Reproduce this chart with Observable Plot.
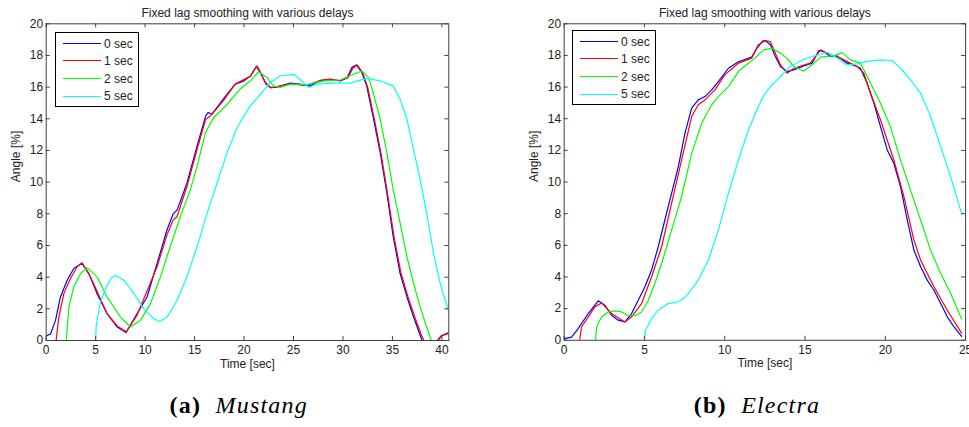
<!DOCTYPE html>
<html>
<head>
<meta charset="utf-8">
<script src="https://cdn.jsdelivr.net/npm/d3@7"></script>
<script src="https://cdn.jsdelivr.net/npm/@observablehq/plot@0.6"></script>
<style>
  html, body { margin: 0; padding: 0; background: #fff; overflow: hidden; }
  body { width: 969px; height: 427px; position: relative; }
  .panel { position: absolute; top: 0; }
  .panel svg { overflow: visible; }
  .legend { position: absolute; box-sizing: border-box; width: 84px; height: 75px; border: 1px solid #000; background: #fff;
            font-family: "Liberation Sans", Arial, sans-serif; font-size: 12px; color: #222; }
  .legend .ln { position: absolute; left: 7px; width: 38px; height: 0; }
  .legend .tx { position: absolute; left: 48px; line-height: 14px; white-space: nowrap; }
  .caption { position: absolute; width: 300px; text-align: center; font-family: "Liberation Serif", "Times New Roman", serif;
             font-size: 24px; line-height: 24px; letter-spacing: 1.2px; color: #000; white-space: pre; }
</style>
</head>
<body>
<div id="a" class="panel" style="left:0px"></div>
<div id="b" class="panel" style="left:518.3px"></div>
<div id="legA" class="legend" style="left:55px; top:32px"></div>
<div id="legB" class="legend" style="left:572px; top:30px"></div>
<div class="caption" style="left:88.7px; top:393px"><b>(a)</b>  <i>Mustang</i></div>
<div class="caption" style="left:607px; top:393px"><b>(b)</b>  <i>Electra</i></div>
<script>
// ---------- data ----------
const delays = ["0 sec", "1 sec", "2 sec", "5 sec"];
const colors = ["#0000ff", "#ff0000", "#00ff00", "#00ffff"];
const titleText = "Fixed lag smoothing with various delays";
const xLabel = "Time [sec]";
const yLabel = "Angle [%]";
const xTicksA = [0, 5, 10, 15, 20, 25, 30, 35, 40];
const xTicksB = [0, 5, 10, 15, 20, 25];
const yTicks = [0, 2, 4, 6, 8, 10, 12, 14, 16, 18, 20];

// (a) Mustang: [time, angle]
const mustang0 = [[0,0.3],[0.43,0.4],[0.94,1.27],[1.44,2.75],[2.12,3.8],[2.79,4.55],[3.6,4.88],[4.3,4.24],[5.14,2.96],[6.16,1.69],[7.18,0.85],[8.07,0.5],[9.18,1.69],[10.2,2.75],[11.21,4.87],[12.21,6.98],[12.84,8.0],[13.24,8.25],[14.23,9.95],[15.25,12.27],[16.12,14.18],[16.36,14.39],[16.76,14.3],[17.9,15.24],[19.1,16.19],[19.96,16.38],[20.63,16.68],[21.24,17.3],[21.65,16.93],[22.15,16.3],[22.65,15.98],[23.33,16.0],[24.68,16.25],[25.65,16.19],[26.69,16.08],[27.7,16.4],[28.73,16.5],[29.72,16.4],[30.42,16.6],[30.91,17.25],[31.36,17.4],[31.9,16.93],[32.4,16.08],[33.1,13.97],[33.77,11.85],[34.44,9.31],[35.08,6.56],[35.78,4.23],[36.47,2.75],[37.14,1.48],[37.81,0.32],[38.0,0],[39.55,0],[39.95,0.3],[40.7,0.5]];
const mustang1 = [[1.0,0],[1.27,1.45],[1.78,2.96],[2.45,3.92],[3.13,4.66],[3.63,4.9],[4.5,4.0],[6.16,1.69],[7.2,0.9],[8.1,0.55],[9.18,1.59],[11.21,4.66],[12.21,6.67],[12.84,7.62],[13.24,7.83],[14.23,9.74],[15.25,12.06],[16.12,13.97],[16.61,14.18],[17.9,15.13],[19.1,16.19],[20.63,16.68],[21.3,17.35],[21.7,16.9],[22.2,16.2],[22.75,15.95],[23.4,16.05],[24.8,16.2],[26.3,16.1],[27.8,16.45],[28.8,16.5],[29.8,16.4],[30.5,16.6],[31.0,17.2],[31.45,17.4],[32.0,16.9],[32.5,16.0],[33.2,13.9],[33.85,11.8],[34.5,9.3],[35.15,6.6],[35.85,4.3],[36.55,2.8],[37.25,1.5],[37.95,0.3],[38.2,0],[39.6,0],[40.0,0.3],[40.7,0.45]];
const mustang2 = [[2.03,0],[2.29,2.1],[2.79,3.39],[3.47,4.23],[4.14,4.6],[5.14,4.02],[6.16,2.75],[7.51,1.48],[8.52,0.85],[9.52,1.27],[10.54,2.33],[11.55,4.02],[12.54,5.93],[13.56,7.83],[14.58,9.53],[15.25,11.0],[16.1,13.12],[16.91,14.07],[18.3,14.92],[19.59,15.87],[20.63,16.4],[21.48,16.97],[22.32,16.61],[22.97,16.08],[23.66,15.98],[24.66,16.19],[26.35,16.15],[28.03,16.4],[29.72,16.45],[31.01,16.8],[31.9,17.02],[32.6,16.6],[33.1,15.55],[33.77,13.97],[34.44,11.85],[35.08,9.53],[35.78,7.41],[36.47,5.29],[37.14,3.6],[37.81,2.12],[38.46,0.85],[38.93,0],[40.7,0]];
const mustang5 = [[0,0],[5.0,0],[5.05,0.9],[5.48,2.43],[6.16,3.49],[6.6,3.95],[7.0,4.12],[7.85,3.81],[8.87,2.96],[9.86,2.01],[10.87,1.38],[11.48,1.2],[12.21,1.48],[13.24,2.54],[14.23,4.02],[15.25,5.93],[16.27,8.04],[17.27,9.95],[18.28,11.85],[19.3,13.45],[20.6,14.8],[21.65,15.55],[22.67,16.3],[23.66,16.72],[25.05,16.8],[25.65,16.5],[26.54,15.98],[27.33,16.19],[29.03,16.25],[30.71,16.25],[32.4,16.55],[33.77,16.4],[35.08,16.08],[35.78,15.24],[36.47,13.97],[37.14,12.06],[37.81,10.16],[38.46,8.04],[39.16,5.5],[39.83,3.6],[40.7,1.8]];

// (b) Electra: [time, angle]
const electra0 = [[0,0.1],[0.46,0.2],[0.87,0.74],[1.5,1.69],[2.12,2.49],[2.53,2.22],[2.95,1.58],[3.37,1.27],[3.78,1.16],[4.2,1.69],[4.61,2.53],[5.03,3.38],[5.44,4.43],[5.86,5.91],[6.27,7.6],[6.69,9.28],[7.11,10.97],[7.52,13.08],[7.94,14.67],[8.35,15.19],[8.77,15.4],[9.19,15.82],[9.6,16.35],[10.23,17.19],[10.85,17.6],[11.68,17.89],[12.0,18.45],[12.35,18.9],[12.53,18.94],[12.84,18.67],[13.15,17.93],[13.47,17.3],[13.88,16.98],[14.3,17.09],[14.92,17.34],[15.44,17.51],[15.86,18.31],[16.17,18.24],[16.58,17.93],[17.0,17.97],[17.62,17.51],[18.25,17.3],[18.45,17.19],[18.87,16.24],[19.29,14.98],[19.7,13.5],[20.12,12.03],[20.53,11.18],[20.95,9.7],[21.37,7.59],[21.78,5.7],[22.2,4.64],[22.61,3.8],[23.03,3.16],[23.45,2.32],[23.86,1.48],[24.28,0.84],[24.75,0.25]];
const electra1 = [[0.96,0],[1.08,0.84],[1.5,1.48],[1.91,2.11],[2.33,2.36],[2.95,1.69],[3.78,1.16],[4.2,1.48],[4.82,2.32],[5.44,4.0],[6.07,5.91],[6.69,8.65],[7.31,11.39],[7.94,14.14],[8.35,14.88],[8.77,15.19],[9.39,15.82],[10.0,16.77],[10.85,17.51],[11.68,17.83],[12.09,18.67],[12.53,18.94],[12.84,18.88],[13.15,18.14],[13.47,17.4],[13.88,16.88],[14.3,17.19],[15.33,17.51],[15.97,18.35],[16.38,18.14],[17.2,17.83],[18.25,17.3],[18.66,16.88],[19.08,15.61],[19.7,13.92],[20.53,11.39],[21.16,9.07],[21.78,6.33],[22.2,5.06],[23.03,3.38],[23.86,1.9],[24.75,0.45]];
const electra2 = [[1.95,0],[2.02,0.84],[2.33,1.48],[2.74,1.79],[3.16,1.86],[3.57,1.79],[3.99,1.58],[4.41,1.55],[4.82,1.79],[5.24,2.53],[5.65,3.59],[6.07,4.85],[6.69,6.96],[7.31,9.07],[7.94,11.81],[8.56,13.71],[9.19,14.88],[9.6,15.4],[10.23,16.03],[10.85,16.98],[11.47,17.51],[11.89,17.83],[12.41,18.35],[12.95,18.46],[13.47,18.14],[13.88,17.83],[14.3,17.3],[14.92,17.0],[15.54,17.51],[15.97,17.89],[16.79,17.97],[17.31,18.18],[17.83,17.72],[18.45,17.51],[19.08,16.24],[19.7,14.98],[20.32,13.5],[20.95,11.39],[21.57,9.49],[22.2,7.59],[22.82,5.7],[23.45,4.22],[24.07,2.95],[24.75,1.35]];
const electra5 = [[5.0,0],[5.07,0.63],[5.44,1.37],[5.86,1.9],[6.48,2.32],[7.0,2.4],[7.31,2.53],[7.73,2.95],[8.35,3.8],[8.98,5.06],[9.6,6.96],[10.23,9.28],[10.85,11.39],[11.47,13.29],[12.09,14.77],[12.41,15.45],[12.84,16.03],[13.47,16.67],[14.09,17.3],[14.92,17.76],[15.76,18.03],[16.38,18.2],[17.0,17.83],[17.62,17.4],[18.25,17.47],[18.87,17.62],[19.7,17.72],[20.42,17.68],[20.95,17.19],[21.57,16.45],[22.2,15.61],[22.82,14.14],[23.45,12.24],[24.07,10.34],[24.75,8.0]];

// ---------- drawing ----------
function rowsOf(seriesList) {
  return seriesList.flatMap((s, i) => s.map(([t, v]) => ({t, v, delay: delays[i]})));
}

const axisColor = "#404040";
const H = 380, MT = 23.3, MB = 40, ML = 45.7;
const FH = H - MT - MB;

function panel(rows, width, marginRight, xmax, xTicks) {
  const FW = width - ML - marginRight;
  return Plot.plot({
    width, height: H,
    marginLeft: ML, marginRight, marginTop: MT, marginBottom: MB,
    x: {domain: [0, xmax]},
    y: {domain: [0, 20]},
    color: {domain: delays, range: colors},
    style: {fontFamily: "'Liberation Sans', Arial, sans-serif", fontSize: "12px", color: "#222", background: "#fff", overflow: "visible"},
    marks: [
      Plot.line(rows, {x: "t", y: "v", z: "delay", stroke: "delay", strokeWidth: 1.2, clip: true}),
      Plot.frame({stroke: axisColor}),
      Plot.tickX(xTicks, {x: d => d, insetTop: FH - 4, stroke: axisColor}),
      Plot.tickX(xTicks, {x: d => d, insetBottom: FH - 4, stroke: axisColor}),
      Plot.tickY(yTicks, {y: d => d, insetRight: FW - 4, stroke: axisColor}),
      Plot.tickY(yTicks, {y: d => d, insetLeft: FW - 4, stroke: axisColor}),
      Plot.axisX(xTicks, {tickSize: 0, tickPadding: 5, label: null}),
      Plot.axisY(yTicks, {tickSize: 0, tickPadding: 3, label: null}),
      Plot.text([titleText], {text: d => d, frameAnchor: "top", dy: -15, fontSize: 12, fill: "#222"}),
      Plot.text([xLabel], {text: d => d, frameAnchor: "bottom", dy: 27, fontSize: 12, fill: "#222"}),
      Plot.text([yLabel], {text: d => d, frameAnchor: "left", dx: -30, rotate: -90, fontSize: 12, fill: "#222"})
    ]
  });
}

document.getElementById("a").appendChild(panel(rowsOf([mustang0, mustang1, mustang2, mustang5]), 470, 21.7, 40.7, xTicksA));
document.getElementById("b").appendChild(panel(rowsOf([electra0, electra1, electra2, electra5]), 451, 3.6, 25, xTicksB));

const rowY = [11.5, 29, 46.7, 64.3];
for (const id of ["legA", "legB"]) {
  const box = document.getElementById(id);
  delays.forEach((d, i) => {
    const ln = document.createElement("div");
    ln.className = "ln";
    ln.style.top = (rowY[i] - 1.6) + "px";
    ln.style.borderTop = "1.3px solid " + colors[i];
    box.appendChild(ln);
    const tx = document.createElement("div");
    tx.className = "tx";
    tx.style.top = (rowY[i] - 8) + "px";
    tx.textContent = d;
    box.appendChild(tx);
  });
}
</script>
</body>
</html>
